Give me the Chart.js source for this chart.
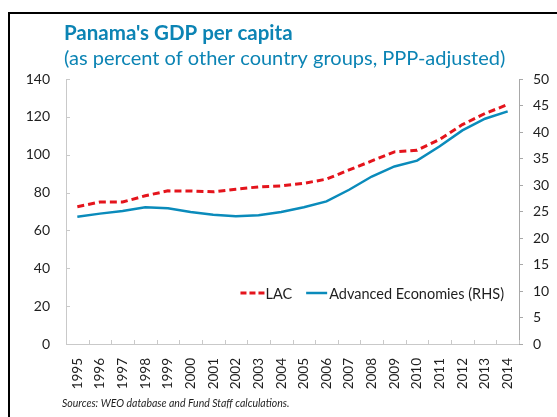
<!DOCTYPE html>
<html>
<head>
<meta charset="utf-8">
<script src="https://cdn.jsdelivr.net/npm/chart.js@4/dist/chart.umd.min.js"></script>
<style>
  html, body { margin: 0; padding: 0; background: #fff; }
  #wrap { width: 557px; height: 417px; position: relative; }
</style>
</head>
<body>
<div id="wrap"><canvas id="c" width="557" height="417"></canvas></div>
<script>
// ---- data ----
const years = ['1995','1996','1997','1998','1999','2000','2001','2002','2003','2004',
               '2005','2006','2007','2008','2009','2010','2011','2012','2013','2014'];
const lacValues = [72.5, 75.0, 75.0, 78.3, 80.9, 80.8, 80.4, 81.8, 83.0, 83.5,
                   84.9, 87.1, 92.0, 96.7, 101.5, 102.4, 108.1, 115.9, 121.8, 126.5];
const advValues = [24.0, 24.6, 25.1, 25.8, 25.6, 24.9, 24.4, 24.1, 24.3, 24.9,
                   25.8, 26.9, 29.1, 31.6, 33.5, 34.6, 37.3, 40.3, 42.5, 43.9];
const seriesNames = ['LAC', 'Advanced Economies (RHS)'];
const leftTicks = [0, 20, 40, 60, 80, 100, 120, 140];
const rightTicks = [0, 5, 10, 15, 20, 25, 30, 35, 40, 45, 50];
const titleText = "Panama's GDP per capita";
const subtitleText = '(as percent of other country groups, PPP-adjusted)';
const sourceText = 'Sources: WEO database and Fund Staff calculations.';

// ---- style ----
const FONT = 'Lato, "Open Sans", sans-serif';
const TITLE_COLOR = '#0c84b4';
const RED = '#e4141c';
const BLUE = '#0a8bbb';
const AXIS_GRAY = '#c9c9c9';
const TEXT = '#1e1e1e';

const decorPlugin = {
  id: 'decor',
  beforeDraw(chart) {
    const ctx = chart.ctx;
    ctx.save();
    ctx.fillStyle = '#fff';
    ctx.fillRect(0, 0, chart.width, chart.height);
    ctx.strokeStyle = '#000';
    ctx.lineWidth = 2;
    ctx.strokeRect(9, 13, 700, 600);
    ctx.restore();
  },
  afterDraw(chart) {
    const ctx = chart.ctx;
    const ca = chart.chartArea;
    ctx.save();
    // titles
    ctx.textBaseline = 'middle';
    ctx.textAlign = 'left';
    ctx.fillStyle = TITLE_COLOR;
    ctx.font = 'bold 20.5px ' + FONT;
    ctx.fillText(titleText, ca.left - 2, 33);
    ctx.font = '20px ' + FONT;
    ctx.fillText(subtitleText, ca.left - 2, 59);
    // source
    ctx.fillStyle = TEXT;
    ctx.font = 'italic 10.5px ' + FONT;
    ctx.fillText(sourceText, ca.left - 4, 404);

    // inward tick marks on left axis and x axis
    ctx.strokeStyle = AXIS_GRAY;
    ctx.lineWidth = 1;
    const ys = chart.scales.y;
    ys.ticks.forEach(t => {
      const py = Math.round(ys.getPixelForValue(t.value)) + 0.5;
      ctx.beginPath();
      ctx.moveTo(ca.left, py);
      ctx.lineTo(ca.left + 4, py);
      ctx.stroke();
    });
    const xs = chart.scales.x;
    const n = years.length;
    for (let i = 0; i <= n; i++) {
      const px = Math.round(xs.getPixelForValue(i - 0.5)) + 0.5;
      ctx.beginPath();
      ctx.moveTo(px, ca.bottom);
      ctx.lineTo(px, ca.bottom - 4);
      ctx.stroke();
    }

    // legend inside plot area
    ctx.font = '14.5px ' + FONT;
    ctx.textBaseline = 'middle';
    const ly = ca.bottom - 51;
    const items = chart.data.datasets.map((ds, i) => ({
      label: ds.label, color: ds.borderColor, dash: ds.borderDash || [], width: ds.borderWidth,
      sample: i === 0 ? 24 : 21, gapAfterSample: i === 0 ? 1 : 2
    }));
    const itemGap = 14;
    let total = 0;
    items.forEach((it, i) => {
      it.tw = ctx.measureText(it.label).width;
      total += it.sample + it.gapAfterSample + it.tw + (i < items.length - 1 ? itemGap : 0);
    });
    let x = ca.right - 15 - total;
    items.forEach(it => {
      ctx.strokeStyle = it.color;
      ctx.lineWidth = it.width;
      ctx.setLineDash(it.dash.length ? [6, 3] : []);
      ctx.beginPath();
      ctx.moveTo(x, ly);
      ctx.lineTo(x + it.sample, ly);
      ctx.stroke();
      ctx.setLineDash([]);
      x += it.sample + it.gapAfterSample;
      ctx.fillStyle = TEXT;
      ctx.fillText(it.label, x, ly + 1);
      x += it.tw + itemGap;
    });
    ctx.restore();
  }
};

new Chart(document.getElementById('c'), {
  type: 'line',
  data: {
    labels: years,
    datasets: [
      {
        label: seriesNames[0],
        data: lacValues,
        yAxisID: 'y',
        borderColor: RED,
        borderDash: [7, 4],
        borderWidth: 3,
        pointRadius: 0,
        tension: 0,
        fill: false,
        order: 0
      },
      {
        label: seriesNames[1],
        data: advValues,
        yAxisID: 'y1',
        borderColor: BLUE,
        borderWidth: 2.5,
        pointRadius: 0,
        tension: 0,
        fill: false,
        order: 1
      }
    ]
  },
  options: {
    responsive: false,
    animation: false,
    devicePixelRatio: 1,
    layout: { padding: { top: 79, left: 0, right: 0, bottom: 0 } },
    plugins: {
      legend: { display: false },
      title: { display: false },
      tooltip: { enabled: false }
    },
    scales: {
      x: {
        type: 'category',
        offset: true,
        grid: { display: true, drawOnChartArea: false, drawTicks: false, offset: true, color: AXIS_GRAY },
        border: { display: true, color: AXIS_GRAY, width: 1 },
        ticks: {
          color: TEXT, font: { family: FONT, size: 13.5 },
          minRotation: 90, maxRotation: 90, padding: 14, autoSkip: false
        },
        afterFit(scale) { scale.height = 73; }
      },
      y: {
        position: 'left',
        min: 0, max: 140,
        afterBuildTicks(scale) { scale.ticks = leftTicks.map(v => ({ value: v })); },
        grid: { display: true, drawOnChartArea: false, drawTicks: false, color: AXIS_GRAY },
        border: { display: true, color: AXIS_GRAY, width: 1 },
        ticks: { color: TEXT, font: { family: FONT, size: 14 }, padding: 16 },
        afterFit(scale) { scale.width = 66; }
      },
      y1: {
        position: 'right',
        min: 0, max: 50,
        afterBuildTicks(scale) { scale.ticks = rightTicks.map(v => ({ value: v })); },
        grid: { display: true, drawOnChartArea: false, drawTicks: true, tickLength: 4, color: '#a8a8a8' },
        border: { display: true, color: '#a8a8a8', width: 1 },
        ticks: { color: TEXT, font: { family: FONT, size: 14 }, padding: 10 },
        afterFit(scale) { scale.width = 38; }
      }
    }
  },
  plugins: [decorPlugin]
});
</script>
</body>
</html>
